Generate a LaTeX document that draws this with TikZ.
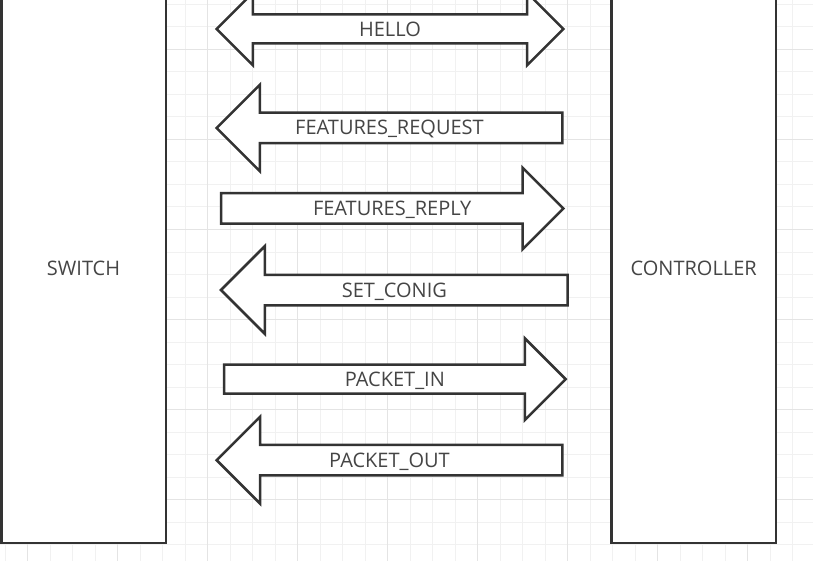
\documentclass[tikz,border=0pt]{standalone}
\usepackage{fontspec}
\setmainfont{Open Sans}
\usepackage{xcolor}
\usepackage{tikz}
\usetikzlibrary{shapes.arrows,positioning,calc}
\definecolor{edge}{HTML}{333333}
\definecolor{label}{HTML}{454545}
\definecolor{gridminor}{HTML}{F1F1F1}
\definecolor{gridmajor}{HTML}{E4E4E4}
\tikzset{
  device/.style ={draw=edge,line width=2.5pt,fill=white,minimum width=164.5pt,
                  minimum height=550pt,text=label,font=\fontsize{20}{22}\selectfont},
  msgtext/.style={inner sep=0pt,text height=21pt,text depth=7pt,text=label,
                  font=\fontsize{20}{22}\selectfont},
  msg/.style    ={msgtext,draw=edge,line width=2.5pt,fill=white,outer sep=0pt},
  msgright/.style={msg,single arrow},
  msgleft/.style ={msgright,shape border rotate=180},
  msgboth/.style ={msg,double arrow}
}
\begin{document}
\begin{tikzpicture}[x=1pt,y=-1pt]
  \useasboundingbox (0,0) rectangle (813,561);
  % background grid
  \foreach \gx in {5,27.5,...,792.5}
    \draw[gridminor,line width=1pt] (\gx,0) -- (\gx,561);
  \foreach \gy in {4.5,27,...,544.5}
    \draw[gridminor,line width=1pt] (0,\gy) -- (813,\gy);
  \foreach \gx in {27.5,117.5,...,747.5}
    \draw[gridmajor,line width=1pt] (\gx,0) -- (\gx,561);
  \foreach \gy in {49.5,139.5,...,499.5}
    \draw[gridmajor,line width=1pt] (0,\gy) -- (813,\gy);

  \node[device] (switch) at (83.5,268) {SWITCH};
  \node[device] (ctrl) at (693.7,268) {CONTROLLER};

  \node[msgboth,minimum height=346.6pt,double arrow head extend=21.75pt,text depth=5.5pt] (hello) at (390,29) {HELLO};

  % one-way messages, placed by their tails
  \node[msgleft,anchor=tail,minimum height=345.6pt,single arrow head extend=28pt] (featreq) at (562.3,128) {};
  \node[msgright,anchor=tail,minimum height=342.3pt,single arrow head extend=25.5pt] (featrep) at (221,208.5) {};
  \node[msgleft,anchor=tail,minimum height=346.7pt,single arrow head extend=28.5pt] (setcfg) at (567.7,290) {};
  \node[msgright,anchor=tail,minimum height=341.7pt,single arrow head extend=26.25pt,text depth=5.5pt] (pktin) at (224,379.2) {};
  \node[msgleft,anchor=tail,minimum height=345.6pt,single arrow head extend=28.2pt] (pktout) at (562.3,460.2) {};

  \node[msgtext] (featreqtxt) at ($(featreq.tip)!.5!(featreq.tail)$) {FEATURES\_REQUEST};
  \node[msgtext] (featreptxt) at ($(featrep.tip)!.5!(featrep.tail)$) {FEATURES\_REPLY};
  \node[msgtext] (setcfgtxt) at ($(setcfg.tip)!.5!(setcfg.tail)$) {SET\_CONIG};
  \node[msgtext,text depth=5.5pt] (pktintxt) at ($(pktin.tip)!.5!(pktin.tail)$) {PACKET\_IN};
  \node[msgtext] (pktouttxt) at ($(pktout.tip)!.5!(pktout.tail)$) {PACKET\_OUT};
\end{tikzpicture}
\end{document}
